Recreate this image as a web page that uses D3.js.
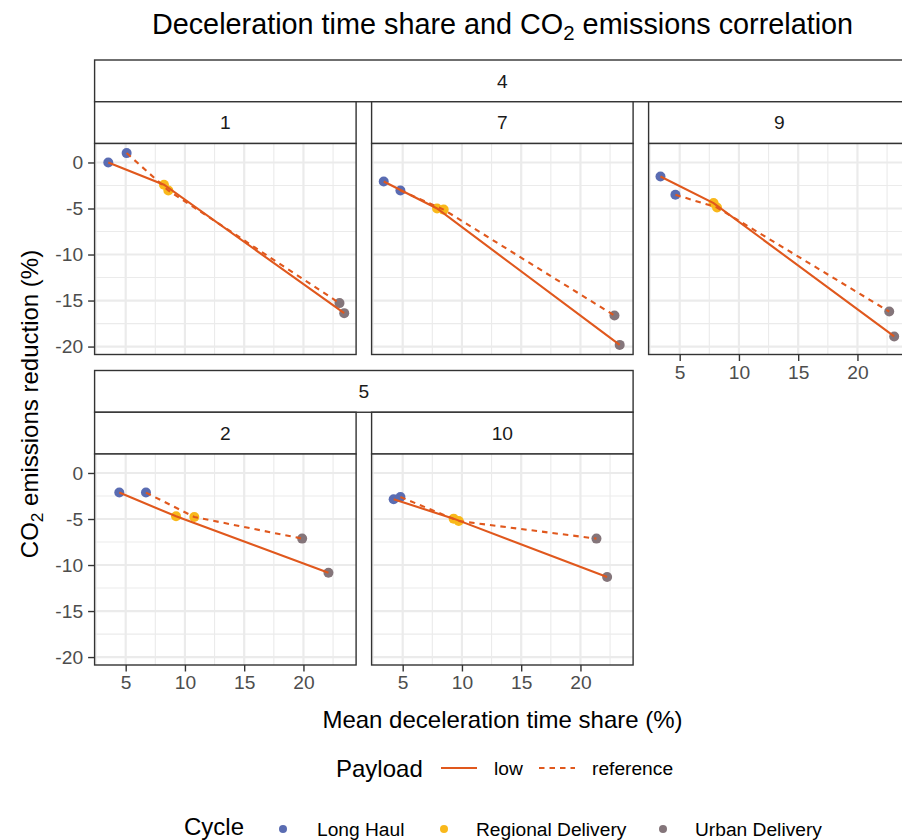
<!DOCTYPE html>
<html><head><meta charset="utf-8">
<script src="https://cdn.jsdelivr.net/npm/d3@7"></script>
<style>
body{margin:0;background:#fff}
svg{display:block;font-family:"Liberation Sans",Arial,sans-serif}
</style>
</head><body>
<svg id="chart" width="902" height="840"></svg>
<script>
// Cycles and their point colours
const cycles = ["Long Haul", "Regional Delivery", "Urban Delivery"];
const cycleColors = ["#5A6CB2", "#F9B81B", "#84757A"];
const payloads = ["low", "reference"];

// Facets: inner label and the outer (nested) group it belongs to
const panelLabels = ["1", "7", "9", "2", "10"];
const panelGroups = ["4", "4", "4", "5", "5"];

// Mean deceleration time share (%) per panel, ordered as cycles
const decelLow = [[3.53, 8.23, 23.44], [3.40, 7.90, 23.31], [3.38, 7.86, 23.10], [4.46, 9.25, 22.11], [4.24, 9.30, 22.25]];
const decelRef = [[5.08, 8.60, 23.04], [4.81, 8.46, 22.87], [4.64, 8.15, 22.68], [6.71, 10.79, 19.89], [4.81, 9.73, 21.35]];
// CO2 emissions reduction (%) per panel, ordered as cycles
const co2Low = [[0.00, -2.42, -16.37], [-2.07, -5.00, -19.82], [-1.52, -4.41, -18.90], [-2.13, -4.71, -10.83], [-2.86, -4.96, -11.30]];
const co2Ref = [[1.02, -3.04, -15.28], [-3.04, -5.12, -16.63], [-3.51, -4.89, -16.20], [-2.13, -4.78, -7.13], [-2.61, -5.22, -7.13]];

const xTicks = [5, 10, 15, 20];
const yTicks = [0, -5, -10, -15, -20];

const lineColor = "#E0581D";
const FONT_BASE = 24;

// flatten into records
const records = [];
panelLabels.forEach((p, pi) => {
  payloads.forEach(pl => {
    const xs = pl === "low" ? decelLow[pi] : decelRef[pi];
    const ys = pl === "low" ? co2Low[pi] : co2Ref[pi];
    cycles.forEach((c, ci) => records.push({panel: pi, payload: pl, cycle: ci, x: xs[ci], y: ys[ci]}));
  });
});

const svg = d3.select("#chart");

// layout
const panelW = 261.5, panelH = 211;
const colLeft = [94.6, 371.6, 648.6];
const rowTop = [60, 370.5];
const stripH = 41.75;
const panelPos = [[0,0],[0,1],[0,2],[1,0],[1,1]]; // [row, col]

function expand(ext) { const d = ext[1]-ext[0]; return [ext[0]-0.05*d, ext[1]+0.05*d]; }
const x = d3.scaleLinear().domain(expand(d3.extent(records, d => d.x))).range([0, panelW]);
const y = d3.scaleLinear().domain(expand(d3.extent(records, d => d.y))).range([panelH, 0]);

function minors(ticks, dom) {
  const step = ticks[1]-ticks[0];
  const all = [ticks[0]-step, ...ticks, ticks[ticks.length-1]+step].sort((a,b)=>a-b);
  const out = [];
  for (let i=0;i<all.length-1;i++){ const m=(all[i]+all[i+1])/2; if (m>=Math.min(...dom) && m<=Math.max(...dom)) out.push(m); }
  return out;
}
const xMinor = minors(xTicks, x.domain());
const yMinor = minors(yTicks.slice().sort((a,b)=>a-b), y.domain());
const plainNum = d => String(d);

// Title with subscript
const title = svg.append("text").attr("x", 502.5).attr("y", 34).attr("text-anchor","middle")
  .attr("font-size", FONT_BASE*1.2).attr("fill","#000");
title.append("tspan").text("Deceleration time share and CO");
title.append("tspan").text("2").attr("font-size", FONT_BASE*0.85).attr("dy", 6);
title.append("tspan").text(" emissions correlation").attr("dy", -6);

// Outer group strips
const groupSpans = d3.groups(panelLabels.map((p,i)=>({g: panelGroups[i], row: panelPos[i][0], col: panelPos[i][1]})), d => d.g);
groupSpans.forEach(([g, arr]) => {
  const row = arr[0].row;
  const c0 = d3.min(arr, d=>d.col), c1 = d3.max(arr, d=>d.col);
  const x0 = colLeft[c0], x1 = colLeft[c1] + panelW;
  const gs = svg.append("g").attr("transform", `translate(${x0},${rowTop[row]})`);
  gs.append("rect").attr("width", x1-x0).attr("height", stripH).attr("fill","#fff").attr("stroke","#333").attr("stroke-width",1.4);
  gs.append("text").attr("x",(x1-x0)/2).attr("y",stripH/2).attr("dy","0.35em").attr("text-anchor","middle")
    .attr("font-size", FONT_BASE*0.8).attr("fill","#1A1A1A").text(g);
});

const line = d3.line().x(d => x(d.x)).y(d => y(d.y));

panelLabels.forEach((p, pi) => {
  const [row, col] = panelPos[pi];
  const left = colLeft[col];
  const stripTop = rowTop[row] + stripH;
  const top = stripTop + stripH;

  // inner strip
  const st = svg.append("g").attr("transform", `translate(${left},${stripTop})`);
  st.append("rect").attr("width", panelW).attr("height", stripH).attr("fill","#fff").attr("stroke","#333").attr("stroke-width",1.4);
  st.append("text").attr("x", panelW/2).attr("y", stripH/2).attr("dy","0.35em").attr("text-anchor","middle")
    .attr("font-size", FONT_BASE*0.8).attr("fill","#1A1A1A").text(p);

  const g = svg.append("g").attr("transform", `translate(${left},${top})`);
  g.append("rect").attr("width", panelW).attr("height", panelH).attr("fill","#fff");

  // grid
  const grid = g.append("g");
  grid.selectAll(".xm").data(xMinor).join("line").attr("x1", d=>x(d)).attr("x2", d=>x(d)).attr("y1",0).attr("y2",panelH)
    .attr("stroke","#EBEBEB").attr("stroke-width",1.15);
  grid.selectAll(".ym").data(yMinor).join("line").attr("y1", d=>y(d)).attr("y2", d=>y(d)).attr("x1",0).attr("x2",panelW)
    .attr("stroke","#EBEBEB").attr("stroke-width",1.15);
  grid.selectAll(".xM").data(xTicks).join("line").attr("x1", d=>x(d)).attr("x2", d=>x(d)).attr("y1",0).attr("y2",panelH)
    .attr("stroke","#EBEBEB").attr("stroke-width",2.2);
  grid.selectAll(".yM").data(yTicks).join("line").attr("y1", d=>y(d)).attr("y2", d=>y(d)).attr("x1",0).attr("x2",panelW)
    .attr("stroke","#EBEBEB").attr("stroke-width",2.2);

  const pts = records.filter(d => d.panel === pi);
  // points
  g.selectAll("circle.pt").data(pts).join("circle").attr("class","pt")
    .attr("cx", d=>x(d.x)).attr("cy", d=>y(d.y)).attr("r", 5).attr("fill", d=>cycleColors[d.cycle]);
  // lines per payload
  payloads.forEach(pl => {
    const s = pts.filter(d => d.payload === pl).sort((a,b)=>a.x-b.x);
    g.append("path").datum(s).attr("d", line).attr("fill","none").attr("stroke", lineColor)
      .attr("stroke-width", 2.1).attr("stroke-dasharray", pl === "reference" ? "5.5,5" : null);
  });

  g.append("rect").attr("width", panelW).attr("height", panelH).attr("fill","none").attr("stroke","#333").attr("stroke-width",1.4);

  // y axis on left column
  if (col === 0) {
    const ax = g.append("g").call(d3.axisLeft(y).tickValues(yTicks).tickSize(6.5).tickPadding(5).tickFormat(plainNum));
    ax.select(".domain").remove();
    ax.selectAll(".tick line").attr("stroke","#333").attr("stroke-width",1.4);
    ax.selectAll(".tick text").attr("font-size", FONT_BASE*0.8).attr("fill","#4D4D4D").attr("font-family",null);
  }
  // x axis where no panel below
  const hasBelow = panelPos.some(([r,c]) => r === row+1 && c === col);
  if (!hasBelow) {
    const ax = g.append("g").attr("transform", `translate(0,${panelH})`)
      .call(d3.axisBottom(x).tickValues(xTicks).tickSize(6.5).tickPadding(4).tickFormat(plainNum));
    ax.select(".domain").remove();
    ax.selectAll(".tick line").attr("stroke","#333").attr("stroke-width",1.4);
    ax.selectAll(".tick text").attr("font-size", FONT_BASE*0.8).attr("fill","#4D4D4D").attr("font-family",null);
  }
});

// axis titles
svg.append("text").attr("x", 502.5).attr("y", 728).attr("text-anchor","middle").attr("font-size", FONT_BASE)
  .attr("fill","#000").text("Mean deceleration time share (%)");
const yt = svg.append("text").attr("transform","translate(38,404) rotate(-90)").attr("text-anchor","middle")
  .attr("font-size", FONT_BASE).attr("fill","#000");
yt.append("tspan").text("CO");
yt.append("tspan").text("2").attr("font-size", FONT_BASE*0.72).attr("dy", 5);
yt.append("tspan").text(" emissions reduction (%)").attr("dy", -5);

// Payload legend
const lg1 = svg.append("g");
lg1.append("text").attr("x", 336).attr("y", 777).attr("font-size", FONT_BASE).attr("fill","#000").text("Payload");
payloads.forEach((pl, i) => {
  const kx = [441, 539][i], tx = [494, 592][i];
  lg1.append("line").attr("x1", kx).attr("x2", kx+36).attr("y1", 768).attr("y2", 768).attr("stroke", lineColor)
    .attr("stroke-width", 2.1).attr("stroke-dasharray", pl === "reference" ? "5.5,5" : null);
  lg1.append("text").attr("x", tx).attr("y", 775).attr("font-size", FONT_BASE*0.8).attr("fill","#000").text(pl);
});

// Cycle legend
const lg2 = svg.append("g");
lg2.append("text").attr("x", 184).attr("y", 835).attr("font-size", FONT_BASE).attr("fill","#000").text("Cycle");
cycles.forEach((c, i) => {
  const kx = [283, 444, 663][i], tx = [317, 476, 695][i];
  lg2.append("circle").attr("cx", kx).attr("cy", 829).attr("r", 4).attr("fill", cycleColors[i]);
  lg2.append("text").attr("x", tx).attr("y", 836).attr("font-size", FONT_BASE*0.8).attr("fill","#000").text(c);
});
</script>
</body></html>
